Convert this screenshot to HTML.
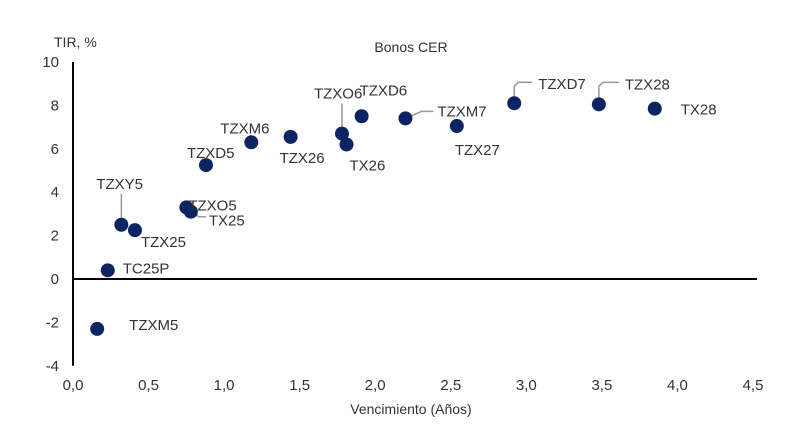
<!DOCTYPE html>
<html><head><meta charset="utf-8"><style>
html,body{margin:0;padding:0;background:#fff;}
svg{display:block;font-family:"Liberation Sans",sans-serif;}
</style></head><body>
<svg id="chart" width="800" height="442" viewBox="0 0 800 442" xmlns="http://www.w3.org/2000/svg">
<rect width="800" height="442" fill="#fff"/>
<text x="411" y="52" font-size="14" fill="#333" text-anchor="middle">Bonos CER</text>
<text x="54" y="47" font-size="14" fill="#333">TIR, %</text>
<text x="411" y="414" font-size="14" fill="#333" text-anchor="middle">Vencimiento (Años)</text>
<g id="axes"></g>
<g id="leaders"></g>
<g id="points"></g>
<g id="labels"></g>
</svg>
<script>
const names = ["TZXM5","TC25P","TZXY5","TZX25","TZXO5","TX25","TZXD5","TZXM6","TZX26","TZXO6","TX26","TZXD6","TZXM7","TZX27","TZXD7","TZX28","TX28"];
const years = [0.16,0.23,0.32,0.41,0.75,0.78,0.88,1.18,1.44,1.78,1.81,1.91,2.20,2.54,2.92,3.48,3.85];
const tir = [-2.3,0.4,2.5,2.25,3.3,3.1,5.25,6.3,6.55,6.7,6.2,7.5,7.4,7.05,8.1,8.05,7.85];
const xTicks = [0,0.5,1,1.5,2,2.5,3,3.5,4,4.5];
const xTickLabels = ["0,0","0,5","1,0","1,5","2,0","2,5","3,0","3,5","4,0","4,5"];
const yTicks = [10,8,6,4,2,0,-2,-4];

const labOff = [[32,-4],[15,-2],[-25,-41],[6,12],[2,-2],[18,9],[-19,-12],[-31,-14],[-11,21],[-28,-40],[3,21],[-2,-26],[32,-7],[-2,24],[24,-19],[26,-20],[26,1]];
const leader = {2:"v",5:"h",9:"v",12:"d",14:"u",15:"u"};

const X0=73, X1=753, Y0=279, YS=21.7;
const xs = v => X0 + v*(X1-X0)/4.5;
const ys = v => Y0 - v*YS;
const NS="http://www.w3.org/2000/svg";
function mk(tag, attrs, parent, txt){const e=document.createElementNS(NS,tag);for(const k in attrs)e.setAttribute(k,attrs[k]);if(txt!==undefined)e.textContent=txt;document.getElementById(parent).appendChild(e);return e;}

const ya = mk("line",{x1:X0,y1:ys(10),x2:X0,y2:ys(-4),stroke:"#000","stroke-width":2},"axes");


const xa = mk("line",{x1:X0,y1:Y0,x2:757,y2:Y0,stroke:"#000","stroke-width":2},"axes");


yTicks.forEach(v=>{
  const t = mk("text",{x:59,y:ys(v)+5,"font-size":15,fill:"#333","text-anchor":"end"},"axes",String(v));
  
  
});
xTicks.forEach((v,i)=>{
  const t = mk("text",{x:xs(v),y:390,"font-size":15,fill:"#333","text-anchor":"middle"},"axes",xTickLabels[i]);
  
  
});
names.forEach((n,i)=>{
  const px=xs(years[i]), py=ys(tir[i]);
  const lx=px+labOff[i][0], ly=py+labOff[i][1];
  const L=leader[i];
  if(L){
    let d="";
    if(L==="v") d=`M${px},${py} L${px},${ly+10}`;
    if(L==="h") d=`M${px},${py} L${px+8},${py+5} L${lx-3},${py+5}`;
    if(L==="d") d=`M${px},${py} L${px+16},${ly} L${lx-4},${ly}`;
    if(L==="u") d=`M${px},${py} L${px},${ly+2} L${px+4},${ly-2} L${lx-6},${ly-2}`;
    const p=mk("path",{d:d,stroke:"#999",fill:"none","stroke-width":1.5},"leaders");
    
    
  }
  const c=mk("circle",{cx:px,cy:py,r:7,fill:"#0c2461"},"points");
  
  
  const t=mk("text",{x:lx,y:ly+5,"font-size":15,fill:"#333"},"labels",n);
  
  
});
</script>
</body></html>
